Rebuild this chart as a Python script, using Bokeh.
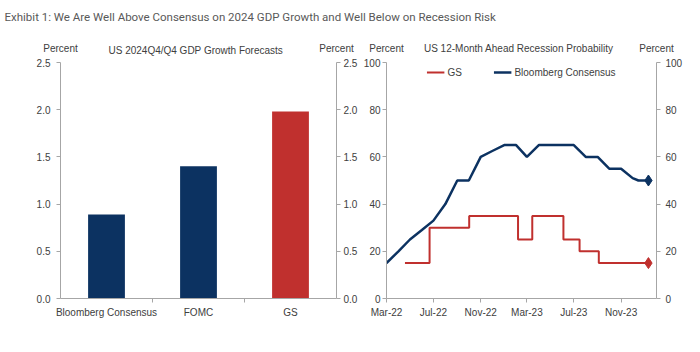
import pandas as pd
from bokeh.plotting import figure
from bokeh.layouts import column, row
from bokeh.models import (Range1d, LinearAxis, FixedTicker, Label, NumeralTickFormatter,
                          DatetimeTickFormatter, Legend, LegendItem)
from bokeh.embed import file_html
from bokeh.resources import INLINE

# ---------------- data ----------------
title_text = "Exhibit 1: We Are Well Above Consensus on 2024 GDP Growth and Well Below on Recession Risk"

gdp_title = "US 2024Q4/Q4  GDP Growth  Forecasts"
gdp_categories = ["Bloomberg Consensus", "FOMC", "GS"]
gdp_values = [0.89, 1.40, 1.98]
gdp_ticks = [0.0, 0.5, 1.0, 1.5, 2.0, 2.5]

rec_title = "US 12-Month  Ahead  Recession Probability"
bbg_dates = ["2022-03-01", "2022-04-01", "2022-05-01", "2022-06-01", "2022-07-01", "2022-08-01",
             "2022-09-01", "2022-10-01", "2022-11-01", "2022-12-01", "2023-01-01", "2023-02-01",
             "2023-03-01", "2023-04-01", "2023-05-01", "2023-06-01", "2023-07-01", "2023-08-01",
             "2023-09-01", "2023-10-01", "2023-11-01", "2023-12-01", "2023-12-16", "2024-01-11"]
bbg_values = [15, 20, 25, 29, 33, 40, 50, 50, 60, 62.5, 65, 65,
              60, 65, 65, 65, 65, 60, 60, 55, 55, 51, 50, 50]
gs_dates = ["2022-04-18", "2022-06-21", "2022-10-02", "2023-02-06", "2023-03-15",
            "2023-06-04", "2023-07-16", "2023-09-04", "2024-01-11"]
gs_values = [15, 30, 35, 25, 35, 25, 20, 15, 15]
rec_ticks = [0, 20, 40, 60, 80, 100]
date_ticks = ["2022-03-01", "2022-07-01", "2022-11-01", "2023-03-01", "2023-07-01", "2023-11-01"]
date_start = "2022-03-01"
date_end = "2024-02-01"
unit_label = "Percent"

# ---------------- style / layout ----------------
NAVY = "#0c3261"
RED = "#c0302e"
AXIS = "#a6a6a6"
TXT = "#404040"
FONT = "Liberation Sans"

W = 700
HEAD_H = 56
FIG_H = 352 - HEAD_H
TOP = 6
BOTTOM = 54
P1_W, P1_L, P1_R = 360, 60, 24
P2_W, P2_L, P2_R = W - P1_W, 26, 44


def style_axis(ax, standoff=5):
    ax.axis_line_color = AXIS
    ax.axis_line_width = 1
    ax.major_tick_line_color = AXIS
    ax.major_tick_out = 4
    ax.major_tick_in = 0
    ax.minor_tick_line_color = None
    ax.major_label_text_font_size = "10px"
    ax.major_label_text_color = TXT
    ax.major_label_text_font = FONT
    ax.major_label_standoff = standoff

# ---------------- header (title, units, panel titles) ----------------
p0 = figure(width=W, height=HEAD_H, x_range=Range1d(0, W), y_range=Range1d(HEAD_H, 0),
            x_axis_type=None, y_axis_type=None, toolbar_location=None, output_backend="svg",
            min_border=0)
p0.outline_line_color = None
p0.grid.visible = False
p0.add_layout(Label(x=4, y=16, text=title_text, text_baseline="middle", text_align="left",
                    text_font="Roboto", text_font_size="11.5px", text_color="#595959"))


def head_text(x, y, text):
    p0.add_layout(Label(x=x, y=y, text=text, text_align="center", text_baseline="middle",
                        text_font=FONT, text_font_size="10px", text_color=TXT))


ax_pos = [P1_L, P1_W - P1_R, P1_W + P2_L, W - P2_R]
for xp in ax_pos:
    head_text(xp, 48, unit_label)
head_text((ax_pos[0] + ax_pos[1]) / 2, 50, gdp_title)
head_text((ax_pos[2] + ax_pos[3]) / 2, 48, rec_title)

# ---------------- left panel ----------------
ncat = len(gdp_categories)
xs = [i + 0.5 for i in range(ncat)]
p1 = figure(width=P1_W, height=FIG_H, x_range=Range1d(0, ncat),
            y_range=Range1d(gdp_ticks[0], gdp_ticks[-1]),
            toolbar_location=None, output_backend="svg",
            min_border_left=P1_L, min_border_right=P1_R, min_border_top=TOP,
            min_border_bottom=BOTTOM)
p1.outline_line_color = None
p1.grid.visible = False
p1.vbar(x=xs, top=gdp_values, width=0.4, fill_color=[NAVY, NAVY, RED], line_color=None)
p1.add_layout(LinearAxis(), "right")
for i, ax in enumerate(p1.yaxis):
    style_axis(ax, standoff=6 if i == 0 else 3)
    ax.ticker = FixedTicker(ticks=gdp_ticks)
    ax.formatter = NumeralTickFormatter(format="0.0")
xa = p1.xaxis[0]
style_axis(xa, standoff=4)
xa.ticker = FixedTicker(ticks=xs, minor_ticks=[i for i in range(1, ncat)])
xa.major_label_overrides = {x: c for x, c in zip(xs, gdp_categories)}
xa.major_tick_line_color = None
xa.minor_tick_line_color = AXIS
xa.minor_tick_out = 4
xa.minor_tick_in = 0

# ---------------- right panel ----------------
d0 = pd.Timestamp(date_start)
d1 = pd.Timestamp(date_end)
p2 = figure(width=P2_W, height=FIG_H, x_axis_type="datetime",
            x_range=Range1d(d0.to_pydatetime(), d1.to_pydatetime()),
            y_range=Range1d(rec_ticks[0], rec_ticks[-1]), toolbar_location=None,
            output_backend="svg",
            min_border_left=P2_L, min_border_right=P2_R, min_border_top=TOP,
            min_border_bottom=BOTTOM)
p2.outline_line_color = None
p2.grid.visible = False

bx = pd.to_datetime(bbg_dates)
gx = pd.to_datetime(gs_dates)
r_bb = p2.line(bx, bbg_values, line_color=NAVY, line_width=2.5)
r_gs = p2.step(gx, gs_values, mode="after", line_color=RED, line_width=2)
p2.scatter([bx[-1]], [bbg_values[-1]], marker="diamond", size=11, color=NAVY)
p2.scatter([gx[-1]], [gs_values[-1]], marker="diamond", size=11, color=RED)

p2.add_layout(LinearAxis(), "right")
for i, ax in enumerate(p2.yaxis):
    style_axis(ax, standoff=2 if i == 0 else 5)
    ax.ticker = FixedTicker(ticks=rec_ticks)
xb = p2.xaxis[0]
style_axis(xb, standoff=4)
xb.ticker = FixedTicker(ticks=[pd.Timestamp(d).value // 10**6 for d in date_ticks])
fmt = "%b-%y"
xb.formatter = DatetimeTickFormatter(months=fmt, days=fmt, years=fmt, hours=fmt,
                                     minutes=fmt, seconds=fmt, milliseconds=fmt,
                                     microseconds=fmt, hourmin=fmt, minsec=fmt)

legend = Legend(items=[LegendItem(label="GS", renderers=[r_gs]),
                       LegendItem(label="Bloomberg Consensus", renderers=[r_bb])],
                orientation="horizontal", location="top_center", border_line_color=None,
                background_fill_alpha=0, label_text_font_size="10px", label_text_font=FONT,
                label_text_color=TXT, glyph_width=18, glyph_height=12, label_standoff=3,
                spacing=26, padding=0, margin=4, label_height=12)
p2.add_layout(legend)

layout = column(p0, row(p1, p2, spacing=0), spacing=0)
open("out.html", "w").write(file_html(layout, INLINE))
